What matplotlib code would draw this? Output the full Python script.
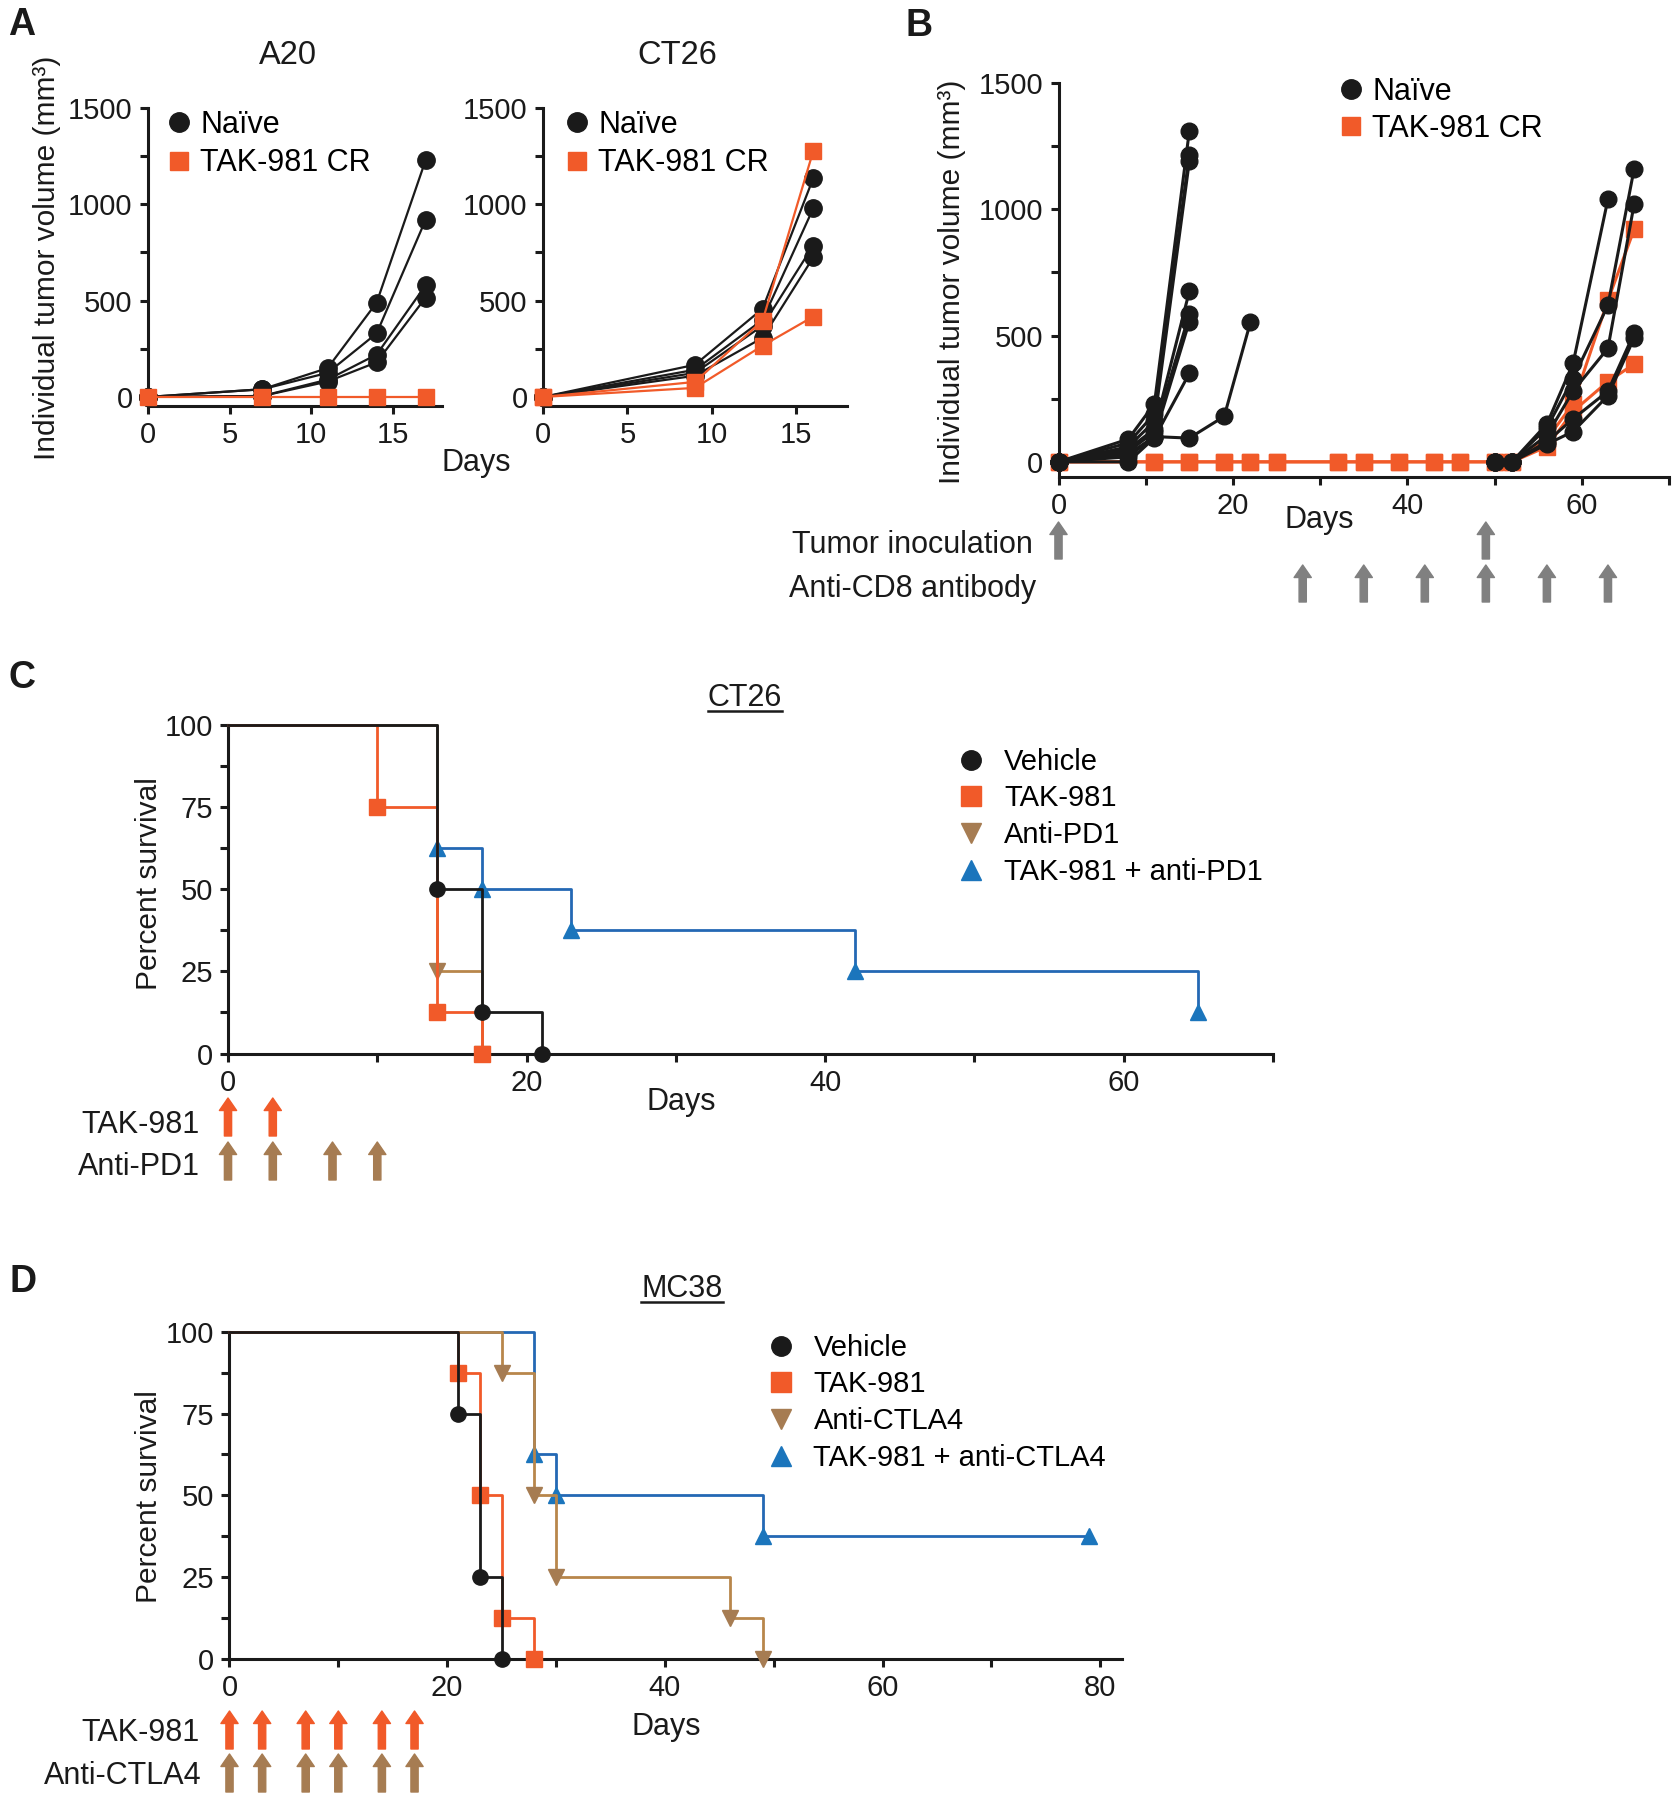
import numpy as np
import matplotlib.pyplot as plt
from matplotlib import transforms
from matplotlib.lines import Line2D

plt.rcParams['font.family'] = ['Liberation Sans', 'DejaVu Sans']

W, H = 1679, 1800
BLACK = '#1a1a1a'
ORANGE = '#f15a29'
BROWN = '#b8864b'
BROWN_DARK = '#a67c52'
BLUE = '#2468b4'
BLUE_LEG = '#1b75bc'
GREY = '#808080'

# ---- A: A20 ----
a20_days = [0, 7, 11, 14, 17]
a20_naive = [[0, 40, 150, 490, 1230],
             [0, 40, 125, 330, 920],
             [0, 5, 90, 220, 580],
             [0, 5, 80, 180, 516]]
a20_cr = [0, 0, 0, 0, 0]

# ---- A: CT26 ----
ct26_days = [0, 9, 13, 16]
ct26_naive = [[0, 167, 458, 1135],
              [0, 141, 400, 979],
              [0, 125, 370, 786],
              [0, 110, 307, 724]]
ct26_cr = [[0, 78, 396, 1276],
           [0, 47, 266, 417]]

# ---- B: rechallenge ----
b_days_first = [0, 8, 11, 15]
b_naive_first = [[0, 90, 230, 1310],
                 [0, 75, 190, 1215],
                 [0, 60, 160, 1190],
                 [0, 50, 130, 675],
                 [0, 40, 120, 585],
                 [0, 30, 100, 555],
                 [0, 0, 95, 350]]
b_days_slow = [0, 8, 11, 15, 19, 22]
b_naive_slow = [0, 20, 100, 94, 180, 552]
b_days_re = [50, 52, 56, 59, 63, 66]
b_naive_re = [[0, 0, 150, 390, 1040],
              [0, 0, 135, 330, 620, 1160],
              [0, 0, 105, 280, 450, 1020],
              [0, 0, 80, 170, 280, 510],
              [0, 0, 70, 120, 262, 490]]
b_cr_days = [0, 11, 15, 19, 22, 25, 32, 35, 39, 43, 46, 50, 52, 56, 59, 63, 66]
b_cr = [[0, 0, 0, 0, 0, 0, 0, 0, 0, 0, 0, 0, 0, 90, 230, 640, 920],
        [0, 0, 0, 0, 0, 0, 0, 0, 0, 0, 0, 0, 0, 60, 200, 318, 387]]
b_inoculation = [0, 49]
b_anti_cd8 = [28, 35, 42, 49, 56, 63]

# ---- C: CT26 survival ----
c_groups = ['Vehicle', 'TAK-981', 'Anti-PD1', 'TAK-981 + anti-PD1']
c_times = [[0, 14, 17, 21], [0, 10, 14, 17], [0, 14, 17], [0, 14, 17, 23, 42, 65]]
c_surv = [[100, 50, 12.5, 0], [100, 75, 12.5, 0], [100, 25, 0],
          [100, 62.5, 50, 37.5, 25, 12.5]]
c_tak981 = [0, 3]
c_pd1 = [0, 3, 7, 10]

# ---- D: MC38 survival ----
d_groups = ['Vehicle', 'TAK-981', 'Anti-CTLA4', 'TAK-981 + anti-CTLA4']
d_times = [[0, 21, 23, 25], [0, 21, 23, 25, 28], [0, 25, 28, 30, 46, 49],
           [0, 28, 30, 49, 79]]
d_surv = [[100, 75, 25, 0], [100, 87.5, 50, 12.5, 0],
          [100, 87.5, 50, 25, 12.5, 0], [100, 62.5, 50, 37.5, 37.5]]
d_tak981 = [0, 3, 7, 10, 14, 17]
d_ctla4 = [0, 3, 7, 10, 14, 17]

# colour, marker, marker colour, zorder for the four survival groups
km_style = [(BLACK, 'o', BLACK, 6), (ORANGE, 's', ORANGE, 5),
            (BROWN, 'v', BROWN_DARK, 4), (BLUE, '^', BLUE_LEG, 3)]

fig = plt.figure(figsize=(W / 100, H / 100), dpi=100)


def fx(px):
    return px / W


def fy(py):
    return 1 - py / H


def make_axes(left, right, top, bottom):
    return fig.add_axes([fx(left), fy(bottom), (right - left) / W, (bottom - top) / H])


def style(ax, size=21):
    for s in ['top', 'right']:
        ax.spines[s].set_visible(False)
    for s in ['left', 'bottom']:
        ax.spines[s].set_linewidth(2.2)
        ax.spines[s].set_color(BLACK)
    ax.tick_params(which='both', direction='out', length=6, width=2.2,
                   labelsize=size, pad=5, colors=BLACK)


def add_legend(ax, handles, labels, mx, my, size, hl, tp, ls):
    em = size * 100 / 72
    ax.legend(handles, labels, loc='upper left',
              bbox_to_anchor=(fx(mx - hl * em / 2), fy(my - 0.42 * em)),
              bbox_transform=fig.transFigure, frameon=False, borderpad=0,
              borderaxespad=0, handlelength=hl, handletextpad=tp,
              labelspacing=ls, fontsize=size, numpoints=1)


def dose_arrows(ax, days, y_top, y_bot, color):
    tr = transforms.blended_transform_factory(ax.transData, fig.transFigure)
    for d in days:
        ax.annotate('', xy=(d, fy(y_top)), xytext=(d, fy(y_bot)),
                    xycoords=tr, textcoords=tr, annotation_clip=False,
                    arrowprops=dict(arrowstyle='simple,head_length=0.45,head_width=0.62,tail_width=0.26',
                                    color=color, shrinkA=0, shrinkB=0,
                                    mutation_scale=20))


def label(x, y, s, **kw):
    return fig.text(fx(x), fy(y), s, color=BLACK, **kw)


# ================= A =================
for (left, right, days, naive, cr, title, tx, mx, tick_days) in [
        (148, 442, a20_days, a20_naive, [a20_cr], 'A20', 288, 179, [0, 5, 10, 15]),
        (543, 847, ct26_days, ct26_naive, ct26_cr, 'CT26', 677, 577, [0, 5, 10, 15])]:
    ax = make_axes(left, right, 108, 406)
    style(ax)
    for v in naive:
        ax.plot(days, v, '-o', color=BLACK, lw=1.6, ms=12.5, clip_on=False, zorder=3)
    for v in cr:
        ax.plot(days, v, '-s', color=ORANGE, lw=1.6, ms=12, clip_on=False, zorder=4)
    ax.set_xlim(0, 18)
    ax.set_ylim(-47, 1500)
    ax.set_xticks(tick_days)
    ax.set_yticks([0, 500, 1000, 1500])
    ax.set_yticks([250, 750, 1250], minor=True)
    h = [Line2D([], [], ls='none', marker='o', ms=14, color=BLACK),
         Line2D([], [], ls='none', marker='s', ms=13, color=ORANGE)]
    add_legend(ax, h, ['Naïve', 'TAK-981 CR'], mx, 123, 22, 0.6, 0.4, 0.27)
    label(tx, 56, title, ha='center', va='center', fontsize=23.5)

label(47, 258, 'Individual tumor volume (mm³)', rotation=90, ha='center', va='center', fontsize=21.5)
label(476, 463, 'Days', ha='center', va='center', fontsize=22)

# ================= B =================
ax = make_axes(1058.5, 1669, 83, 476.5)
style(ax)
for v in b_cr:
    ax.plot(b_cr_days, v, '-s', color=ORANGE, lw=2.2, ms=11, clip_on=False, zorder=3)
for v in b_naive_first:
    ax.plot(b_days_first, v, '-o', color=BLACK, lw=2.2, ms=12, clip_on=False, zorder=4)
ax.plot(b_days_slow, b_naive_slow, '-o', color=BLACK, lw=2.2, ms=12, clip_on=False, zorder=4)
for v in b_naive_re:
    ax.plot(b_days_re[:len(v)], v, '-o', color=BLACK, lw=2.2, ms=12, clip_on=False, zorder=4)
ax.set_xlim(0, 70)
ax.set_ylim(-58, 1500)
ax.set_xticks([0, 20, 40, 60])
ax.set_xticks([10, 30, 50, 70], minor=True)
ax.set_yticks([0, 500, 1000, 1500])
ax.set_yticks([250, 750, 1250], minor=True)
h = [Line2D([], [], ls='none', marker='o', ms=14, color=BLACK),
     Line2D([], [], ls='none', marker='s', ms=13, color=ORANGE)]
add_legend(ax, h, ['Naïve', 'TAK-981 CR'], 1351, 90, 22, 0.6, 0.4, 0.22)
dose_arrows(ax, b_inoculation, 522, 559, GREY)
dose_arrows(ax, b_anti_cd8, 565, 602, GREY)
label(952, 282, 'Individual tumor volume (mm³)', rotation=90, ha='center', va='center', fontsize=21.5)
label(1319, 520, 'Days', ha='center', va='center', fontsize=22)
label(1033, 545, 'Tumor inoculation', ha='right', va='center', fontsize=22)
label(1036, 589, 'Anti-CD8 antibody', ha='right', va='center', fontsize=22)


# ================= C & D =================
def km_panel(ax, times, surv, groups, xmax, xticks, leg_x, leg_y):
    style(ax)
    handles = []
    for t, s, (c, m, mc, z) in zip(times, surv, km_style):
        ax.step(t, s, where='post', color=c, lw=2.0, zorder=z, clip_on=False)
        ax.plot(t[1:], s[1:], ls='none', marker=m, ms=11, color=mc, zorder=z, clip_on=False)
        handles.append(Line2D([], [], ls='none', marker=m, ms=14, color=mc))
    ax.set_xlim(0, xmax)
    ax.set_ylim(0, 100)
    ax.set_xticks(xticks)
    ax.set_xticks([10, 30, 50, 70], minor=True)
    ax.set_yticks([0, 25, 50, 75, 100])
    ax.set_yticks([12.5, 37.5, 62.5, 87.5], minor=True)
    add_legend(ax, handles, groups, leg_x, leg_y, 21, 1.0, 0.63, 0.3)


axc = make_axes(228, 1273, 724.6, 1053.6)
km_panel(axc, c_times, c_surv, c_groups, 70, [0, 20, 40, 60], 971, 760)
dose_arrows(axc, c_tak981, 1098, 1136, ORANGE)
dose_arrows(axc, c_pd1, 1142, 1180, BROWN_DARK)
label(149, 884, 'Percent survival', rotation=90, ha='center', va='center', fontsize=21.5)
label(681, 1102, 'Days', ha='center', va='center', fontsize=22)
label(200, 1125, 'TAK-981', ha='right', va='center', fontsize=22)
label(200, 1167, 'Anti-PD1', ha='right', va='center', fontsize=22)
tc = label(745, 698, 'CT26', ha='center', va='center', fontsize=22)

axd = make_axes(229.5, 1122, 1332, 1658.6)
km_panel(axd, d_times, d_surv, d_groups, 82, [0, 20, 40, 60, 80], 780.5, 1346)
dose_arrows(axd, d_tak981, 1711, 1749, ORANGE)
dose_arrows(axd, d_ctla4, 1754, 1792, BROWN_DARK)
label(149, 1497, 'Percent survival', rotation=90, ha='center', va='center', fontsize=21.5)
label(666, 1727, 'Days', ha='center', va='center', fontsize=22)
label(200, 1733, 'TAK-981', ha='right', va='center', fontsize=22)
label(202, 1776, 'Anti-CTLA4', ha='right', va='center', fontsize=22)
td = label(682, 1289, 'MC38', ha='center', va='center', fontsize=22)

# panel letters
for s, x, y in [('A', 8, 25), ('B', 905, 26), ('C', 9, 678), ('D', 9, 1282)]:
    label(x, y, s, ha='left', va='center', fontsize=27, fontweight='bold')

# underline the survival titles
fig.canvas.draw()
r = fig.canvas.get_renderer()
for t in [tc, td]:
    bb = t.get_window_extent(r)
    fig.add_artist(Line2D([bb.x0 / W, bb.x1 / W], [(bb.y0 + 2) / H] * 2,
                          transform=fig.transFigure, color=BLACK, lw=1.8))

fig.savefig('out.png', dpi=100)
